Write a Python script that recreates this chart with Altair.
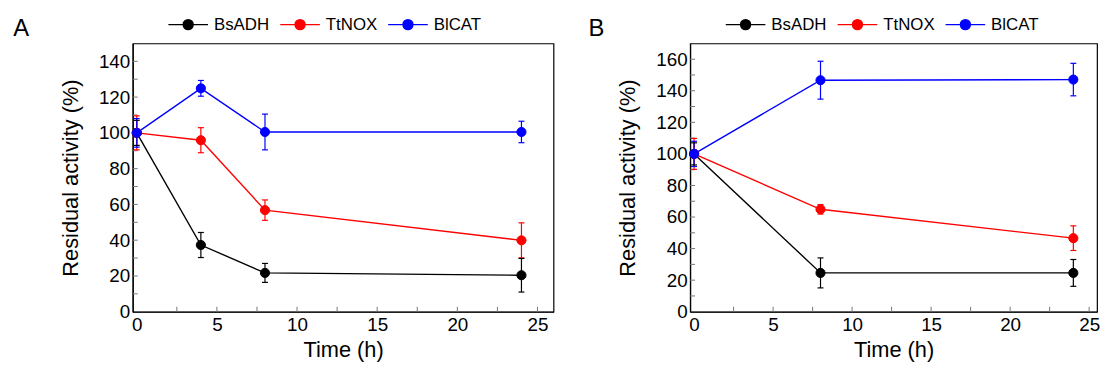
import altair as alt
import pandas as pd

FONT = "Liberation Sans"

series = ["BsADH", "TtNOX", "BlCAT"]
colors = ["#000000", "#ff0000", "#0000ff"]

# Panel A
a_time = [0, 4, 8, 24]
a_bsadh = [100, 37.3, 21.7, 20.4]
a_bsadh_err = [7, 7, 5.3, 9.4]
a_ttnox = [100, 95.9, 56.8, 39.9]
a_ttnox_err = [9.5, 7, 5.7, 9.8]
a_blcat = [100, 124.9, 100.5, 100.5]
a_blcat_err = [8, 4.4, 10, 6]

# Panel B
b_time = [0, 8, 24]
b_bsadh = [100, 24.6, 24.6]
b_bsadh_err = [7, 9.5, 8.5]
b_ttnox = [100, 64.9, 46.6]
b_ttnox_err = [9.8, 3, 7.8]
b_blcat = [100, 146.7, 147.1]
b_blcat_err = [8, 12, 10.3]

x_labels = [0, 5, 10, 15, 20, 25]
x_minor = [2.5, 5, 7.5, 10, 12.5, 15, 17.5, 20, 22.5, 25]
a_y_labels = [0, 20, 40, 60, 80, 100, 120, 140]
a_y_minor = [10, 20, 30, 40, 50, 60, 70, 80, 90, 100, 110, 120, 130, 140]
b_y_labels = [0, 20, 40, 60, 80, 100, 120, 140, 160]
b_y_minor = [10, 20, 30, 40, 50, 60, 70, 80, 90, 100, 110, 120, 130, 140, 150, 160]

H = 271


def make_df(time, vals, errs):
    rows = []
    for s, v, e in zip(series, vals, errs):
        for t, m, d in zip(time, v, e):
            rows.append({"series": s, "time": t, "value": m, "lo": m - d, "hi": m + d})
    return pd.DataFrame(rows)


LEG_PATH = "M-1,0L1,0M-0.25,0A0.25,0.25,0,1,1,0.25,0A0.25,0.25,0,1,1,-0.25,0Z"


def legend():
    return alt.Legend(
        orient="none", legendX=35, legendY=-40, direction="horizontal", title=None,
        symbolType=LEG_PATH, symbolSize=1600, symbolStrokeWidth=1.5,
        labelFontSize=17, labelFont=FONT, labelColor="black", labelOffset=5,
        columnPadding=8, padding=0, symbolOpacity=1,
    )


def panel(df, xmax, ymax, ylabels, yminor, letter, width, tdx):
    xs = alt.Scale(domain=[-0.25, xmax], nice=False, zero=False)
    ys = alt.Scale(domain=[0, ymax], nice=False)
    xaxis = alt.Axis(values=x_labels, title="Time (h)", grid=False)
    yaxis = alt.Axis(values=ylabels, title="Residual activity (%)", grid=False)
    x = alt.X("time:Q", scale=xs, axis=xaxis)
    y = alt.Y("value:Q", scale=ys, axis=yaxis)
    cs = alt.Scale(domain=series, range=colors)
    stroke = alt.Stroke("series:N", scale=cs, legend=legend(), sort=series)
    fill = alt.Fill("series:N", scale=cs, legend=legend(), sort=series)
    base = alt.Chart(df)
    lines = base.mark_line(strokeWidth=1.4).encode(x=x, y=y, stroke=stroke,
                                                   order="time:Q")
    rules = base.mark_rule(strokeWidth=1.2).encode(x=x, y=alt.Y("lo:Q", scale=ys, axis=yaxis),
                                                   y2="hi:Q", stroke=stroke)
    cap_lo = base.mark_point(shape="stroke", size=36, strokeWidth=1.2, opacity=1).encode(
        x=x, y=alt.Y("lo:Q", scale=ys, axis=yaxis), stroke=stroke)
    cap_hi = base.mark_point(shape="stroke", size=36, strokeWidth=1.2, opacity=1).encode(
        x=x, y=alt.Y("hi:Q", scale=ys, axis=yaxis), stroke=stroke)
    pts = base.mark_point(filled=True, size=85, opacity=1, strokeWidth=1).encode(
        x=x, y=y, fill=fill, stroke=stroke)
    ytk = alt.Chart(pd.DataFrame({"value": yminor})).mark_rule(
        color="#777777", strokeWidth=1).encode(y=y, x=alt.value(0), x2=alt.value(5))
    xtk = alt.Chart(pd.DataFrame({"time": x_minor})).mark_rule(
        color="#777777", strokeWidth=1).encode(x=x, y=alt.value(H), y2=alt.value(H - 5))
    return alt.layer(ytk, xtk, lines, rules, cap_lo, cap_hi, pts).properties(
        width=width, height=H,
        title=alt.TitleParams(text=letter, anchor="start", fontSize=24,
                              fontWeight="normal", font=FONT, color="black",
                              dx=tdx, dy=42),
    )


dfa = make_df(a_time, [a_bsadh, a_ttnox, a_blcat], [a_bsadh_err, a_ttnox_err, a_blcat_err])
dfb = make_df(b_time, [b_bsadh, b_ttnox, b_blcat], [b_bsadh_err, b_ttnox_err, b_blcat_err])

pa = panel(dfa, 26, 150, a_y_labels, a_y_minor, "A", 425, -47)
pb = panel(dfb, 25.5, 170, b_y_labels, b_y_minor, "B", 411, -29)

chart = alt.hconcat(pa, pb, spacing=33).resolve_scale(
    x="independent", y="independent", stroke="independent", fill="independent"
).configure_view(stroke="black", strokeWidth=1.2).configure_axis(
    labelFont=FONT, titleFont=FONT, labelFontSize=19, titleFontSize=22,
    labelColor="black", titleColor="black", titleFontWeight="normal",
    domainColor="black", domainWidth=1.2, ticks=False, labelPadding=3,
    labelOverlap=False,
).configure_axisY(titlePadding=16).configure_axisX(titlePadding=5, labelPadding=4
).properties(padding={"left": 4, "top": -7, "right": 0, "bottom": 0})

chart.save("out.html", embed_options={"renderer": "svg", "actions": False})
